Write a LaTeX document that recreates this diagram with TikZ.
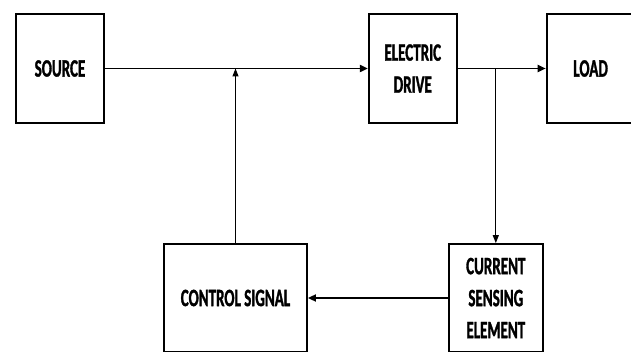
\documentclass[tikz,border=0pt]{standalone}
\usepackage{fontspec}
\newfontfamily\boxfont[FakeStretch=0.6,FakeBold=1.2]{Carlito}
\usetikzlibrary{arrows.meta,positioning}

\begin{document}
\begin{tikzpicture}[
    x=1pt, y=1pt,
    node distance=88pt,
    every node/.style={font=\boxfont\bfseries\fontsize{25}{32}\selectfont},
    block/.style={draw, line width=1.8pt, align=center, minimum width=88pt, minimum height=109pt, inner sep=0pt},
    wide/.style={block, minimum width=143pt, minimum height=108pt},
    sense/.style={block, minimum width=94pt, minimum height=108pt},
    flow/.style={-{Triangle[length=8pt,width=7pt]}, line width=1.8pt},
    tap/.style={-{Triangle[length=8pt,width=6pt]}, line width=1.2pt}
]
\useasboundingbox (0,0) rectangle (631,-352);
\node[block] (source) at (60,-68.5) {SOURCE};
\node[block, right=263pt of source] (drive) {ELECTRIC\\DRIVE};
\node[block, right=of drive] (load) {LOAD};
\node[wide] (control) at (235.5,-298) {CONTROL SIGNAL};
\node[sense, right=140pt of control] (sensing) {CURRENT\\SENSING\\ELEMENT};
\coordinate (join) at (control.north |- source.east);
\coordinate (branch) at (sensing.north |- drive.east);
\draw[flow] (source) -- (drive);
\draw[flow] (drive) -- (load);
\draw[tap] (control.north) -- (join);
\draw[tap] (branch) -- (sensing.north);
\draw[flow] (sensing) -- (control);
\end{tikzpicture}
\end{document}
